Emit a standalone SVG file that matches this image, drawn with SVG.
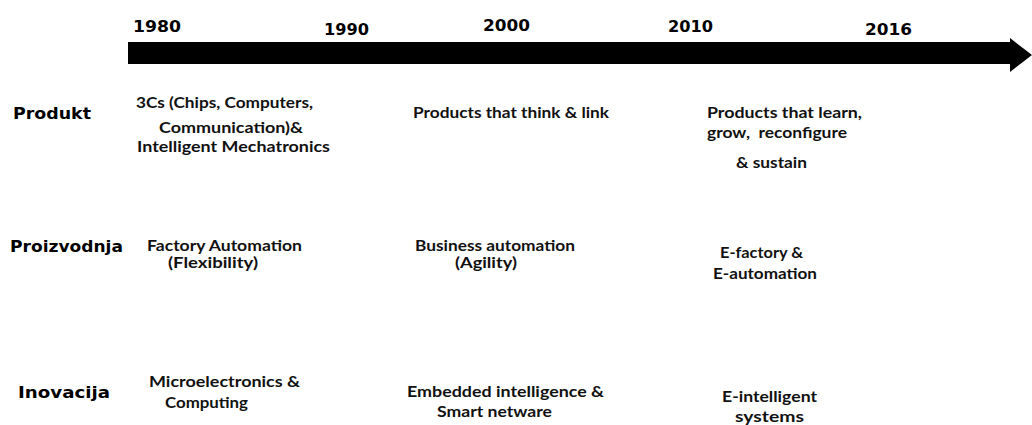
<svg xmlns="http://www.w3.org/2000/svg" width="1032" height="425" viewBox="0 0 1032 425">
<style>
.yr{font-family:"DejaVu Sans","Verdana",sans-serif;font-weight:bold;font-size:16.5px;fill:#000}
.row{font-family:"DejaVu Sans","Verdana",sans-serif;font-weight:bold;font-size:15px;fill:#000}
.t{font-family:Lato,"Open Sans","Liberation Sans",sans-serif;font-weight:bold;font-size:15px;fill:#111}
</style>
<rect width="1032" height="425" fill="#fff"/>
<g id="timeline">
<path d="M128 42 H1010 V38 L1032 55 L1010 72 V64 H128 Z" fill="#000"/>
<text class="yr" x="133" y="32" textLength="48" lengthAdjust="spacingAndGlyphs">1980</text>
<text class="yr" x="324" y="35" textLength="45" lengthAdjust="spacingAndGlyphs">1990</text>
<text class="yr" x="483" y="31" textLength="47" lengthAdjust="spacingAndGlyphs">2000</text>
<text class="yr" x="668" y="32" textLength="45" lengthAdjust="spacingAndGlyphs">2010</text>
<text class="yr" x="865" y="35" textLength="47" lengthAdjust="spacingAndGlyphs">2016</text>
</g>
<g id="row-produkt"><text class="row" x="13" y="119" textLength="78" lengthAdjust="spacingAndGlyphs">Produkt</text></g>
<g id="row-proizvodnja"><text class="row" x="10" y="252" textLength="113" lengthAdjust="spacingAndGlyphs">Proizvodnja</text></g>
<g id="row-inovacija"><text class="row" x="18" y="398" textLength="92" lengthAdjust="spacingAndGlyphs">Inovacija</text></g>
<g id="produkt-1980">
<text class="t" x="136" y="108" textLength="177" lengthAdjust="spacingAndGlyphs">3Cs (Chips, Computers,</text>
<text class="t" x="159" y="133" textLength="144" lengthAdjust="spacingAndGlyphs">Communication)&amp;</text>
<text class="t" x="137" y="152" textLength="193" lengthAdjust="spacingAndGlyphs">Intelligent Mechatronics</text>
</g>
<g id="produkt-2000">
<text class="t" x="413" y="118" textLength="196" lengthAdjust="spacingAndGlyphs">Products that think &amp; link</text>
</g>
<g id="produkt-2010">
<text class="t" x="707" y="118" textLength="155" lengthAdjust="spacingAndGlyphs">Products that learn,</text>
<text class="t" x="707" y="138" textLength="140" lengthAdjust="spacingAndGlyphs" xml:space="preserve">grow,  reconfigure</text>
<text class="t" x="736" y="168" textLength="71" lengthAdjust="spacingAndGlyphs">&amp; sustain</text>
</g>
<g id="proizvodnja-1980">
<text class="t" x="147" y="251" textLength="155" lengthAdjust="spacingAndGlyphs">Factory Automation</text>
<text class="t" x="168" y="268" textLength="90" lengthAdjust="spacingAndGlyphs">(Flexibility)</text>
</g>
<g id="proizvodnja-2000">
<text class="t" x="415" y="251" textLength="160" lengthAdjust="spacingAndGlyphs">Business automation</text>
<text class="t" x="455" y="268" textLength="62" lengthAdjust="spacingAndGlyphs">(Agility)</text>
</g>
<g id="proizvodnja-2010">
<text class="t" x="720" y="258" textLength="83" lengthAdjust="spacingAndGlyphs">E-factory &amp;</text>
<text class="t" x="713" y="279" textLength="104" lengthAdjust="spacingAndGlyphs">E-automation</text>
</g>
<g id="inovacija-1980">
<text class="t" x="149" y="387" textLength="151" lengthAdjust="spacingAndGlyphs">Microelectronics &amp;</text>
<text class="t" x="165" y="408" textLength="83" lengthAdjust="spacingAndGlyphs">Computing</text>
</g>
<g id="inovacija-2000">
<text class="t" x="407" y="397" textLength="197" lengthAdjust="spacingAndGlyphs">Embedded intelligence &amp;</text>
<text class="t" x="437" y="417" textLength="115" lengthAdjust="spacingAndGlyphs">Smart netware</text>
</g>
<g id="inovacija-2010">
<text class="t" x="722" y="402" textLength="95" lengthAdjust="spacingAndGlyphs">E-intelligent</text>
<text class="t" x="735" y="422" textLength="69" lengthAdjust="spacingAndGlyphs">systems</text>
</g>
</svg>
